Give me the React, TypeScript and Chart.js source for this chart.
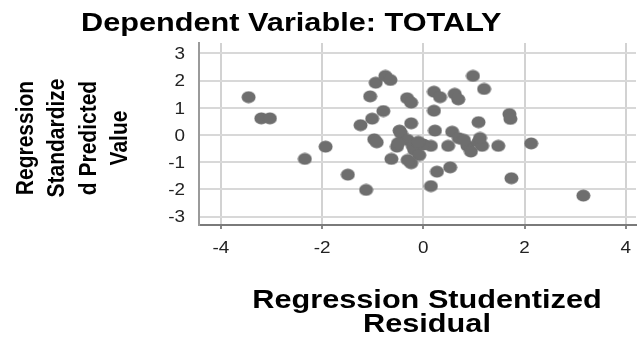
import React, { useEffect, useRef } from "react";
import { Chart, registerables } from "chart.js";

Chart.register(...registerables);

const xValues = [
  -3.45, -3.2, -3.03, -2.34, -1.93, -1.49, -1.13, -1.05, -0.94, -0.75,
  -0.65, -0.79, -1.01, -1.24, -0.97, -0.92, -0.63, -0.52, -0.47, -0.32,
  -0.24, -0.24, -0.44, -0.31, -0.21, -0.18, -0.08, -0.24, -0.31, 0.15,
  0.21, 0.33, 0.62, 0.69, 0.98, 1.2, 0.21, 0.23, 0.57, 1.09,
  1.7, 1.72, 0.49, 0.7, 0.87, 0.94, 1.09, 1.16, 1.48, 2.13,
  0.27, 0.53, 0.15, 1.74, 3.16, 0.8, 1.12, -0.5, 0.0, -0.1,
];
const yValues = [
  1.39, 0.61, 0.61, -0.88, -0.43, -1.46, -2.02, 1.42, 1.92, 2.17,
  2.02, 0.88, 0.6, 0.36, -0.16, -0.27, -0.88, -0.43, 0.16, 1.35,
  1.19, 0.43, 0.06, -0.18, -0.4, -0.55, -0.74, -1.04, -0.92, -0.4,
  1.59, 1.39, 1.51, 1.31, 2.17, 1.69, 0.89, 0.16, 0.12, 0.47,
  0.77, 0.59, -0.4, -0.12, -0.4, -0.61, -0.25, -0.4, -0.4, -0.31,
  -1.35, -1.19, -1.88, -1.59, -2.23, -0.18, -0.11, -0.3, -0.35, -0.25,
];
const xTicks = [-4, -2, 0, 2, 4];
const yTicks = [-3, -2, -1, 0, 1, 2, 3];
const titleText = "Dependent Variable: TOTALY";
const yTitleLines = ["Regression", "Standardize", "d Predicted", "Value"];
const xTitleLines = ["Regression Studentized", "Residual"];

const FONT = "'Liberation Sans', Arial, sans-serif";
const STRETCH = 1.18;

function makeDot(): HTMLCanvasElement {
  const c = document.createElement("canvas");
  c.width = 15;
  c.height = 13;
  const g = c.getContext("2d")!;
  g.fillStyle = "#6e6e6e";
  g.beginPath();
  g.ellipse(7.5, 6.5, 7, 6, 0, 0, Math.PI * 2);
  g.fill();
  return c;
}

function stretchedText(
  ctx: CanvasRenderingContext2D,
  text: string,
  x: number,
  y: number,
  align: CanvasTextAlign
) {
  ctx.save();
  ctx.translate(x, y);
  ctx.scale(STRETCH, 1);
  ctx.textAlign = align;
  ctx.textBaseline = "alphabetic";
  ctx.fillText(text, 0, 0);
  ctx.restore();
}

const textPlugin = {
  id: "texts",
  afterDraw(chart: any) {
    const ctx: CanvasRenderingContext2D = chart.ctx;
    ctx.save();
    ctx.fillStyle = "#000";
    ctx.font = `bold 26px ${FONT}`;
    stretchedText(ctx, titleText, 81, 31, "left");
    ctx.font = `bold 26px ${FONT}`;
    stretchedText(ctx, xTitleLines[0], 427, 308, "center");
    stretchedText(ctx, xTitleLines[1], 427, 332, "center");
    ctx.font = `bold 21px ${FONT}`;
    yTitleLines.forEach((t, i) => {
      ctx.save();
      ctx.translate(0, 138);
      ctx.scale(STRETCH, 1);
      ctx.translate((33 + i * 31.3) / STRETCH, 0);
      ctx.rotate(-Math.PI / 2);
      ctx.textAlign = "center";
      ctx.textBaseline = "alphabetic";
      ctx.fillText(t, 0, 0);
      ctx.restore();
    });
    ctx.fillStyle = "#222";
    ctx.font = `16px ${FONT}`;
    const xs = chart.scales.x;
    const ys = chart.scales.y;
    xTicks.forEach((v) => {
      stretchedText(ctx, String(v), xs.getPixelForValue(v), 253, "center");
    });
    yTicks.forEach((v) => {
      stretchedText(ctx, String(v), 185, ys.getPixelForValue(v) + 5.8, "right");
    });
    ctx.restore();
  },
};

export default function App() {
  const ref = useRef<HTMLCanvasElement | null>(null);
  useEffect(() => {
    document.body.style.margin = "0";
    const dot = makeDot();
    const data = xValues.map((x, i) => ({ x, y: yValues[i] }));
    const chart = new Chart(ref.current!, {
      type: "scatter",
      data: {
        datasets: [
          {
            data,
            pointStyle: dot as any,
            pointRadius: 7,
            pointHoverRadius: 7,
            backgroundColor: "#6e6e6e",
            borderWidth: 0,
          },
        ],
      },
      options: {
        animation: false,
        responsive: false,
        events: [],
        layout: { padding: { left: 0, top: 43, right: 2, bottom: 0 } },
        plugins: { legend: { display: false }, tooltip: { enabled: false } },
        scales: {
          x: {
            type: "linear",
            min: -4.43,
            max: 4.2,
            afterFit: (s: any) => {
              s.height = 112;
            },
            afterBuildTicks: (s: any) => {
              s.ticks = xTicks.map((v) => ({ value: v }));
            },
            ticks: { display: false },
            grid: { color: "#d2d2d2", lineWidth: 2, tickLength: 4, tickColor: "#888", drawTicks: true },
            border: { display: true, color: "#7a7a7a", width: 2 },
          },
          y: {
            type: "linear",
            min: -3.31,
            max: 3.38,
            afterFit: (s: any) => {
              s.width = 199;
            },
            afterBuildTicks: (s: any) => {
              s.ticks = yTicks.map((v) => ({ value: v }));
            },
            ticks: { display: false },
            grid: { color: "#d8d8d8", lineWidth: 2, drawTicks: false },
            border: { display: true, color: "#9a9a9a", width: 2 },
          },
        },
      },
      plugins: [textPlugin],
    });
    return () => chart.destroy();
  }, []);
  return (
    <div style={{ width: 643, height: 337, background: "#fff" }}>
      <canvas ref={ref} width={643} height={337} style={{ display: "block" }} />
    </div>
  );
}
